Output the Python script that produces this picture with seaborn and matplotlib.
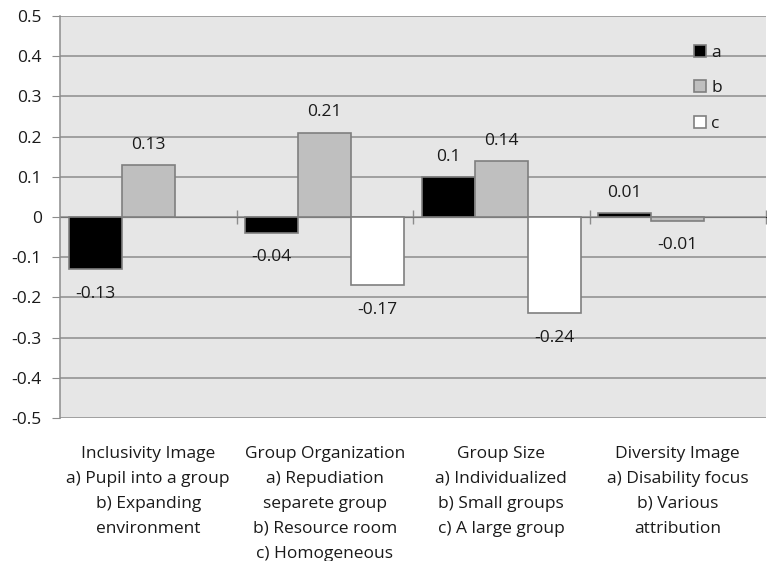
import numpy as np
import pandas as pd
import matplotlib
matplotlib.use("Agg")
import matplotlib.pyplot as plt
import seaborn as sns

categories = [
    "Inclusivity Image\na) Pupil into a group\nb) Expanding\nenvironment",
    "Group Organization\na) Repudiation\nseparete group\nb) Resource room\nc) Homogeneous",
    "Group Size\na) Individualized\nb) Small groups\nc) A large group",
    "Diversity Image\na) Disability focus\nb) Various\nattribution",
]
series = ["a", "b", "c"]
vals_a = [-0.13, -0.04, 0.10, 0.01]
vals_b = [0.13, 0.21, 0.14, -0.01]
vals_c = [np.nan, -0.17, -0.24, np.nan]
yticks = [-0.5, -0.4, -0.3, -0.2, -0.1, 0, 0.1, 0.2, 0.3, 0.4, 0.5]

rows = []
for s, vals in zip(series, [vals_a, vals_b, vals_c]):
    for cat, v in zip(categories, vals):
        if not np.isnan(v):
            rows.append({"category": cat, "series": s, "value": v})
df = pd.DataFrame(rows)

sns.set_style("white")
plt.rcParams["font.family"] = ["Open Sans", "DejaVu Sans"]
fs = 12.5
txt = "#1a1a1a"
grid_c = "#8c8c8c"

fig = plt.figure(figsize=(7.67, 5.61), dpi=100)
ax = fig.add_axes([60 / 767, 1 - 418 / 561, 706 / 767, 402 / 561])
ax.set_facecolor("#e6e6e6")

palette = {"a": "#000000", "b": "#bfbfbf", "c": "#ffffff"}
sns.barplot(data=df, x="category", y="value", hue="series", order=categories,
            hue_order=series, palette=palette, width=0.9, saturation=1,
            edgecolor="#7f7f7f", linewidth=1.2, ax=ax, legend=True)

# value labels
for cont in ax.containers:
    for rect in cont:
        h = rect.get_height()
        x = rect.get_x() + rect.get_width() / 2
        off = 14.5 if h >= 0 else -17.5
        ax.annotate(f"{h:g}", (x, h), xytext=(0, off), textcoords="offset points",
                    ha="center", va="center", fontsize=fs, color=txt)

ax.set_ylim(-0.5, 0.5)
ax.set_xlim(-0.5, len(categories) - 0.5)
ax.set_yticks(yticks)
ax.set_yticklabels([f"{t:g}" for t in yticks])
ax.yaxis.grid(True, color=grid_c, linewidth=1.1)
ax.set_axisbelow(True)
ax.tick_params(axis="y", length=6, color=grid_c, labelsize=fs, labelcolor=txt, pad=7, left=True)
ax.tick_params(axis="x", length=0, labelsize=fs, labelcolor=txt, pad=20)
ax.set_xticks(range(len(categories)))
ax.set_xticklabels(categories, linespacing=1.75, va="top")
ax.set_xlabel("")
ax.set_ylabel("")
for side in ["top", "right", "bottom"]:
    ax.spines[side].set_visible(False)
ax.spines["left"].set_color(grid_c)
ax.spines["left"].set_linewidth(1.1)

# zero axis with category separators
zx = ax.secondary_xaxis(0.5)
zx.set_xticks([0.5, 1.5, 2.5, 3.5])
zx.set_xticklabels([])
zx.tick_params(direction="inout", length=10, color=grid_c, width=1)
zx.spines["bottom"].set_color(grid_c)
zx.spines["bottom"].set_linewidth(1.1)

leg = ax.legend(loc="upper left", bbox_to_anchor=(0.888, 0.945), frameon=False,
                handlelength=0.7, handleheight=0.7, handletextpad=0.3,
                labelspacing=1.1, fontsize=fs, borderaxespad=0)
for t in leg.get_texts():
    t.set_color(txt)

fig.savefig("out.png", dpi=100)
